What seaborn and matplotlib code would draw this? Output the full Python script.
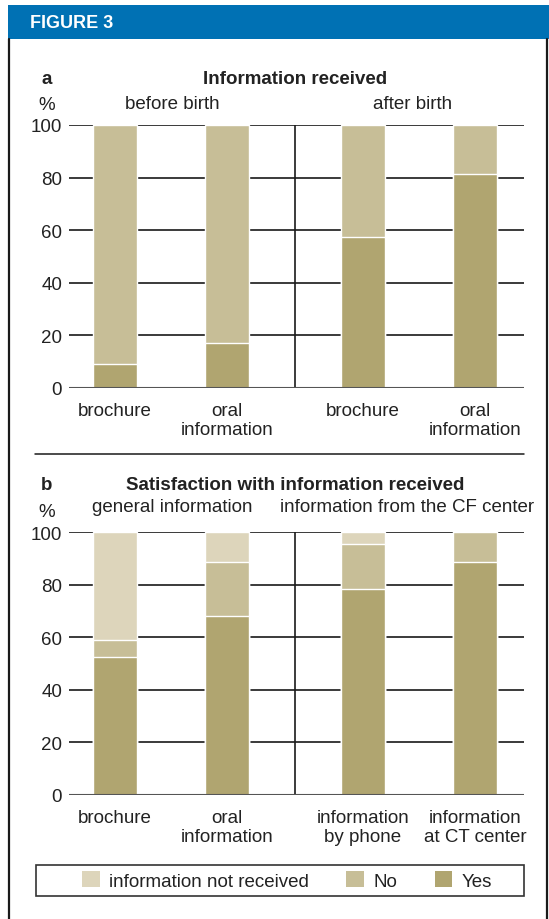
import matplotlib
matplotlib.use('Agg')
import matplotlib.pyplot as plt
from matplotlib.patches import Rectangle, Patch
from matplotlib.lines import Line2D
import numpy as np
import pandas as pd
import seaborn as sns

# panel a - information received (%)
a_labels = ['brochure', 'oral\ninformation', 'brochure', 'oral\ninformation']
a_yes = [9, 17, 57.5, 81.5]
a_no = [91, 83, 42.5, 18.5]

# panel b - satisfaction with information received (%)
b_labels = ['brochure', 'oral\ninformation', 'information\nby phone', 'information\nat CT center']
b_yes = [52.5, 68, 78.5, 88.5]
b_no = [6.5, 20.5, 17, 11.5]
b_notrec = [41, 11.5, 4.5, 0]

a_groups = ['before birth', 'after birth']
b_groups = ['general information', 'information from the CF center']
legend_labels = ['information not received', 'No', 'Yes']
yticks = [0, 20, 40, 60, 80, 100]

c_yes = '#b0a570'
c_no = '#c7be97'
c_notrec = '#ddd5bb'
c_text = '#222222'
fs = 13.5

sns.set_style('white')
plt.rcParams['font.family'] = ['Liberation Sans', 'DejaVu Sans']

W, H = 549, 920
fig = plt.figure(figsize=(W / 100, H / 100), dpi=100)


def fx(x):
    return x / W


def fy(y):
    return 1 - y / H


# frame + header
fig.add_artist(Rectangle((fx(8), fy(40)), fx(541), 34 / H, transform=fig.transFigure,
                         facecolor='#0071b4', edgecolor='none'))
fig.text(fx(30), fy(23), 'FIGURE 3', color='white', fontsize=13, fontweight='bold',
         va='center', ha='left')
for xx in [8.5, 547]:
    fig.add_artist(Line2D([fx(xx), fx(xx)], [fy(40), 0], transform=fig.transFigure,
                          color='#1a1a1a', lw=1.6))
fig.add_artist(Line2D([fx(35), fx(524)], [fy(455), fy(455)], transform=fig.transFigure,
                      color='#1a1a1a', lw=1.1))

xpos = [0, 1, 2.214, 3.214]


def panel(top, letter, title, labels, layers):
    ax = fig.add_axes([fx(69), fy(top + 263), 455 / W, 263 / H])
    for yv in yticks:
        if yv == 0:
            continue
        ax.axhline(yv, color='#2b2b2b', lw=1.3, zorder=0)
    for vals, col in layers:
        df = pd.DataFrame({'x': xpos, 'y': vals})
        sns.barplot(data=df, x='x', y='y', native_scale=True, orient='x', color=col,
                    width=0.393, edgecolor='white', linewidth=1.0, saturation=1,
                    errorbar=None, ax=ax, zorder=2)
    ax.axhline(0, color='#555555', lw=1.5, zorder=3)
    ax.axvline(1.607, color='#1a1a1a', lw=1.2, zorder=1)
    ax.set_xlim(-0.4107, 3.652)
    ax.set_ylim(0, 100)
    ax.set_yticks(yticks)
    ax.set_yticklabels([str(v) for v in yticks], fontsize=fs, color=c_text)
    ax.set_xticks(xpos)
    ax.set_xticklabels(labels, fontsize=fs, color=c_text, linespacing=1.2)
    ax.tick_params(axis='both', length=0)
    ax.tick_params(axis='y', pad=5)
    ax.tick_params(axis='x', pad=10)
    ax.set_xlabel('')
    ax.set_ylabel('')
    sns.despine(ax=ax, left=True, bottom=True)
    ax.set_facecolor('none')

    fig.text(fx(47), fy(top - 47), letter, fontsize=fs, fontweight='bold', color=c_text,
             ha='center', va='center')
    fig.text(fx(295), fy(top - 47), title, fontsize=fs, fontweight='bold', color=c_text,
             ha='center', va='center')
    fig.text(fx(47), fy(top - 20), '%', fontsize=fs, color=c_text, ha='center', va='center')
    return ax


a_total = list(np.add(a_yes, a_no))
panel(126, 'a', 'Information received', a_labels,
      [(a_total, c_no), (a_yes, c_yes)])
fig.text(fx(172), fy(105), a_groups[0], fontsize=fs, color=c_text, ha='center', va='center')
fig.text(fx(413), fy(105), a_groups[1], fontsize=fs, color=c_text, ha='center', va='center')

b_yn = list(np.add(b_yes, b_no))
b_total = list(np.add(b_yn, b_notrec))
panel(533, 'b', 'Satisfaction with information received', b_labels,
      [(b_total, c_notrec), (b_yn, c_no), (b_yes, c_yes)])
fig.text(fx(172), fy(508), b_groups[0], fontsize=fs, color=c_text, ha='center', va='center')
fig.text(fx(407), fy(508), b_groups[1], fontsize=fs, color=c_text, ha='center', va='center')

# legend
fig.add_artist(Rectangle((fx(36), fy(897)), fx(488), 31 / H, transform=fig.transFigure,
                         fill=False, edgecolor='#333333', lw=1.2))
handles = [Patch(facecolor=c, edgecolor='none', label=l)
           for c, l in zip([c_notrec, c_no, c_yes], legend_labels)]
fig.legend(handles=handles, loc='center', bbox_to_anchor=(fx(287), fy(881.5)), ncol=3,
           frameon=False, handlelength=0.93, handleheight=0.93, handletextpad=0.5,
           columnspacing=2.0, prop={'size': 13.5}, labelcolor=c_text)

fig.savefig('out.png', dpi=100, facecolor='white')
